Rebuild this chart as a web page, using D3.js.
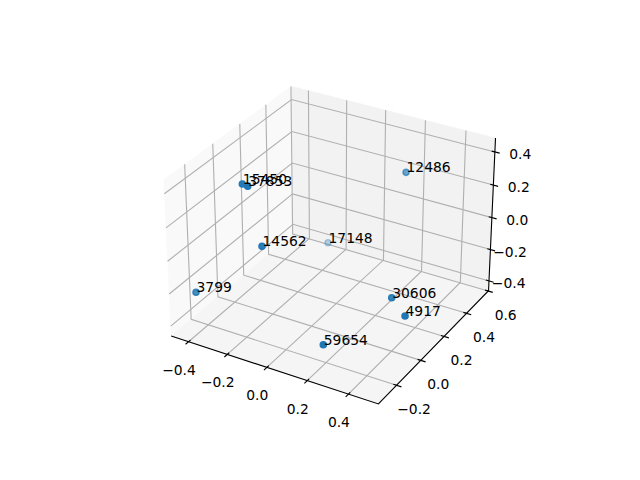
<!DOCTYPE html>
<html>
<head>
<meta charset="utf-8">
<style>html,body{margin:0;padding:0;background:#fff}svg{display:block}text{font-family:"DejaVu Sans";font-size:13.89px;fill:#000}</style>
<script src="https://cdn.jsdelivr.net/npm/d3@7"></script>
</head>
<body>
<script>
const labels = ["59654","4917","30606","3799","14562","15450","37853","12486","17148"];
const xValues = [0.2175,0.4862,0.3833,-0.3665,-0.1304,-0.2604,-0.2258,0.223,-0.118];
const yValues = [-0.248,-0.0415,0.0234,-0.3226,-0.173,-0.118,-0.1292,0.4034,0.319];
const zValues = [-0.309,-0.181,-0.1554,-0.1589,0.1026,0.3915,0.3964,0.296,-0.2007];
const xLim = [-0.4905,0.5431];
const yLim = [-0.3446,0.6034];
const zLim = [-0.4629,0.4827];
const xTicks = [-0.4,-0.2,0,0.2,0.4];
const yTicks = [-0.2,0,0.2,0.4,0.6];
const zTicks = [-0.4,-0.2,0,0.2,0.4];

const W=640,H=480;
const svg=d3.select("body").append("svg").attr("width",W).attr("height",H);
const fx=d3.scaleLinear().domain(xLim).range([-1,1]);
const fy=d3.scaleLinear().domain(yLim).range([-1,1]);
const fz=d3.scaleLinear().domain(zLim).range([-1,1]);
const sxScale=d3.scaleLinear().domain([0,1]).range([332.8,532.3]);
const syScale=d3.scaleLinear().domain([0,1]).range([237.4,37.4]);
const hx=0.595,hz=0.446;
const elev=30*Math.PI/180, azim=-60*Math.PI/180;
const view=[Math.cos(elev)*Math.cos(azim),Math.cos(elev)*Math.sin(azim),Math.sin(elev)];
const right=[-Math.sin(azim),Math.cos(azim),0];
const up=[-Math.sin(elev)*Math.cos(azim),-Math.sin(elev)*Math.sin(azim),Math.cos(elev)];
const dot=(u,v)=>u[0]*v[0]+u[1]*v[1]+u[2]*v[2];
// a,b,c are box coordinates in [-1,1]
function proj(a,b,c){
  const p=[a*hx,b*hx,c*hz];
  const d=dot(p,view), f=1/(1-d/10);
  return {x:sxScale(dot(p,right)*f),y:syScale(dot(p,up)*f),d};
}
const pathOf=pts=>"M"+pts.map(p=>p.x.toFixed(2)+","+p.y.toFixed(2)).join("L");
function poly(corners,fill){
  svg.append("path").attr("d",pathOf(corners.map(c=>proj(...c)))+"Z").attr("fill",fill).attr("stroke",fill).attr("stroke-width",0.5);
}
poly([[-1,-1,-1],[-1,1,-1],[-1,1,1],[-1,-1,1]],"#f9f9f9");
poly([[-1,1,-1],[1,1,-1],[1,1,1],[-1,1,1]],"#f2f2f2");
poly([[-1,-1,-1],[1,-1,-1],[1,1,-1],[-1,1,-1]],"#f5f5f5");

const grid=svg.append("g").attr("fill","none").attr("stroke","#b0b0b0").attr("stroke-width",1.11);
xTicks.forEach(t=>{const a=fx(t);grid.append("path").attr("d",pathOf([proj(a,-1,-1),proj(a,1,-1),proj(a,1,1)]));});
yTicks.forEach(t=>{const b=fy(t);grid.append("path").attr("d",pathOf([proj(1,b,-1),proj(-1,b,-1),proj(-1,b,1)]));});
zTicks.forEach(t=>{const c=fz(t);grid.append("path").attr("d",pathOf([proj(-1,-1,c),proj(-1,1,c),proj(1,1,c)]));});

const ax=svg.append("g").attr("fill","none").attr("stroke","#000").attr("stroke-width",1.11);
ax.append("path").attr("d",pathOf([proj(-1,-1,-1),proj(1,-1,-1),proj(1,1,-1),proj(1,1,1)]));
const fmt=v=>v.toFixed(1).replace("-","\u2212");
const tl=svg.append("g");
xTicks.forEach(t=>{const a=fx(t);const p=proj(a,-1,-1);
  ax.append("path").attr("d",pathOf([proj(a,-0.97,-1),proj(a,-1.045,-1)]));
  tl.append("text").attr("x",p.x-9.5).attr("y",p.y+33).attr("text-anchor","middle").text(fmt(t));});
yTicks.forEach(t=>{const b=fy(t);const p=proj(1,b,-1);
  ax.append("path").attr("d",pathOf([proj(0.97,b,-1),proj(1.045,b,-1)]));
  tl.append("text").attr("x",p.x+17.5).attr("y",p.y+29).attr("text-anchor","middle").text(fmt(t));});
zTicks.forEach(t=>{const c=fz(t);const p=proj(1,1,c);
  ax.append("path").attr("d",pathOf([proj(0.97,1,c),proj(1.045,1,c)]));
  tl.append("text").attr("x",p.x+36.5).attr("y",p.y+7).attr("text-anchor","end").text(fmt(t));});

const pts=labels.map((l,i)=>({l,...proj(fx(xValues[i]),fy(yValues[i]),fz(zValues[i]))}));
const dr=d3.extent(pts,p=>p.d);
const alpha=d3.scaleLinear().domain(dr).range([0.3,1]);
const sorted=pts.slice().sort((m,n)=>m.d-n.d);
svg.append("g").selectAll("circle").data(sorted).join("circle")
  .attr("cx",p=>p.x).attr("cy",p=>p.y).attr("r",3.1)
  .attr("fill","#1f77b4").attr("stroke","#1f77b4").attr("stroke-width",1.39)
  .attr("fill-opacity",p=>alpha(p.d)).attr("stroke-opacity",p=>alpha(p.d));
svg.append("g").selectAll("text").data(pts).join("text")
  .attr("x",p=>p.x+0.5).attr("y",p=>p.y).text(p=>p.l);
</script>
</body>
</html>
